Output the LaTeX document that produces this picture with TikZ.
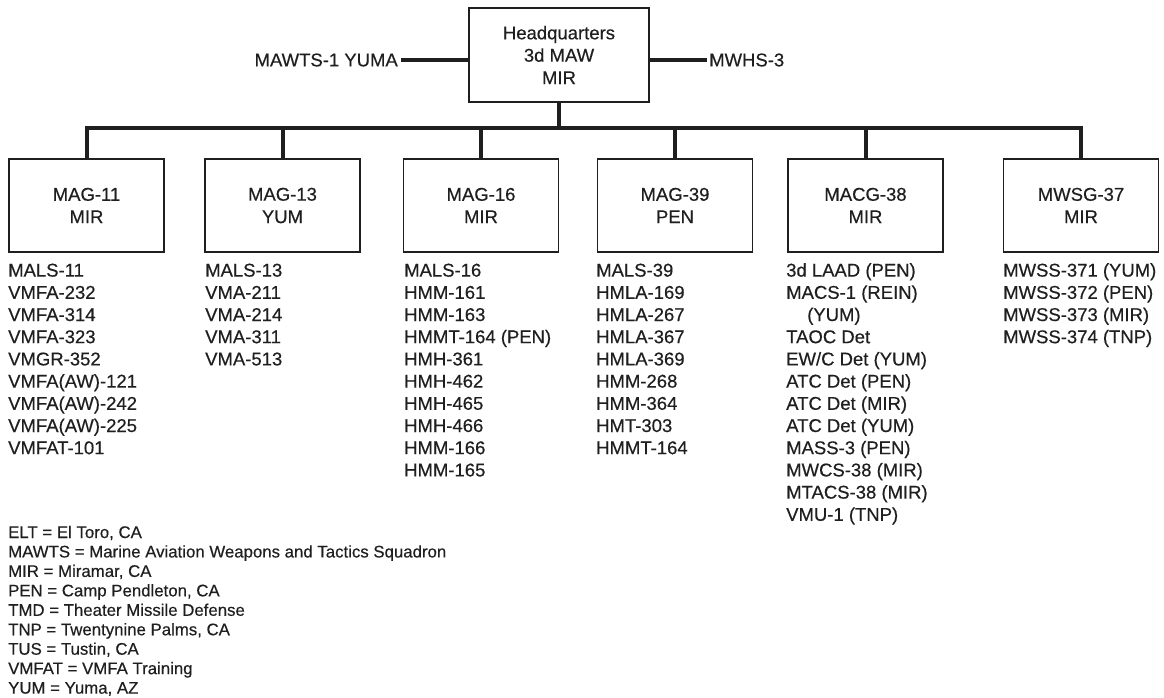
\documentclass[tikz,border=0pt]{standalone}
\usepackage{fontspec}
\setmainfont{Liberation Sans}[FakeBold=0.4]
\begin{document}
\begin{tikzpicture}[x=1pt,y=-1pt,
  txt/.style={font=\fontsize{18.5}{22.4}\selectfont, text=black!88},
  box/.style={txt, draw=black!88, line width=1.8pt, minimum width=155pt, minimum height=93pt, inner sep=0pt, align=center},
  bus/.style={draw=black!88, line width=4pt},
  item/.style={txt, anchor=base west, inner sep=0pt},
  leg/.style={font=\fontsize{16.8}{19}\selectfont, text=black!88, anchor=base west, inner sep=0pt}]
\useasboundingbox (0,0) rectangle (1164,698);

% headquarters
\node[box, minimum width=180pt, minimum height=94pt] (hq) at (559,55) {Headquarters\\3d MAW\\MIR};
\node[txt, anchor=east, inner sep=0pt] (mawts) at (398,60) {MAWTS-1 YUMA};
\node[txt, anchor=west, inner sep=0pt] (mwhs) at (709,60) {MWHS-3};
\draw[bus] ([xshift=3pt]mawts.east) -- (mawts.east -| hq.west);
\draw[bus] (mwhs.west -| hq.east) -- ([xshift=-2pt]mwhs.west);

% groups
\node[box] (g1) at (86.5,205.5) {MAG-11\\MIR};
\node[box] (g2) at (282.5,205.5) {MAG-13\\YUM};
\node[box] (g3) at (481,205.5) {MAG-16\\MIR};
\node[box] (g4) at (675,205.5) {MAG-39\\PEN};
\node[box] (g5) at (865.5,205.5) {MACG-38\\MIR};
\node[box] (g6) at (1081,205.5) {MWSG-37\\MIR};

% bus
\coordinate (busy) at (0,128);
\draw[bus] (hq.south) -- (hq.south |- busy);
\draw[bus, line cap=rect] (g1.north |- busy) -- (g6.north |- busy);
\foreach \g in {g1,g2,g3,g4,g5,g6}
  \draw[bus] (\g.north |- busy) -- (\g.north);

% unit lists
\foreach \t [count=\i from 0] in {MALS-11,VMFA-232,VMFA-314,VMFA-323,VMGR-352,VMFA(AW)-121,VMFA(AW)-242,VMFA(AW)-225,VMFAT-101}
  \node[item, name=a\i] at (8,276.6+22.2*\i) {\t};
\foreach \t [count=\i from 0] in {MALS-13,VMA-211,VMA-214,VMA-311,VMA-513}
  \node[item, name=b\i] at (205,276.6+22.2*\i) {\t};
\foreach \t [count=\i from 0] in {MALS-16,HMM-161,HMM-163,HMMT-164 (PEN),HMH-361,HMH-462,HMH-465,HMH-466,HMM-166,HMM-165}
  \node[item, name=c\i] at (404,276.6+22.2*\i) {\t};
\foreach \t [count=\i from 0] in {MALS-39,HMLA-169,HMLA-267,HMLA-367,HMLA-369,HMM-268,HMM-364,HMT-303,HMMT-164}
  \node[item, name=d\i] at (596,276.6+22.2*\i) {\t};
\foreach \t [count=\i from 0] in {3d LAAD (PEN),MACS-1 (REIN),\hspace*{21pt}(YUM),TAOC Det,EW/C Det (YUM),ATC Det (PEN),ATC Det (MIR),ATC Det (YUM),MASS-3 (PEN),MWCS-38 (MIR),MTACS-38 (MIR),VMU-1 (TNP)}
  \node[item, name=e\i] at (786,276.6+22.2*\i) {\t};
\foreach \t [count=\i from 0] in {MWSS-371 (YUM),MWSS-372 (PEN),MWSS-373 (MIR),MWSS-374 (TNP)}
  \node[item, name=f\i] at (1003,276.6+22.2*\i) {\t};

% legend
\foreach \t [count=\i from 0] in {{ELT = El Toro, CA},{MAWTS = Marine Aviation Weapons and Tactics Squadron},{MIR = Miramar, CA},{PEN = Camp Pendleton, CA},{TMD = Theater Missile Defense},{TNP = Twentynine Palms, CA},{TUS = Tustin, CA},{VMFAT = VMFA Training},{YUM = Yuma, AZ}}
  \node[leg, name=k\i] at (8,538+19.45*\i) {\t};
\end{tikzpicture}
\end{document}
